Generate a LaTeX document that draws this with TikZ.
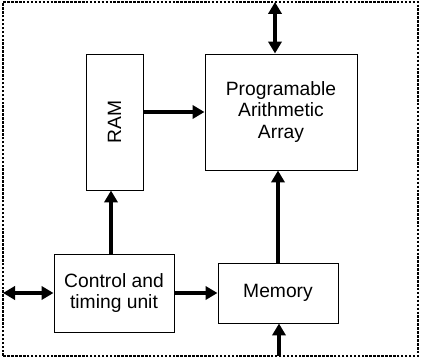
\documentclass[tikz,border=0pt]{standalone}
\usepackage{fontspec}
\setmainfont{Liberation Sans}
\usepackage{tikz}
\usetikzlibrary{
  arrows.meta,
  positioning,
  calc
}

\begin{document}
\begin{tikzpicture}[
  block/.style={rectangle, draw=black, line width=0.7pt, fill=white, font=\fontsize{13.7}{15.5}\selectfont, align=center, inner sep=0pt},
  frame/.style={draw=black, line width=0.8pt, dash pattern=on 1.8pt off 1pt},
  arr/.style={-{Triangle[length=0.3cm, width=0.33cm]}, line width=2.5pt},
  darr/.style={{Triangle[length=0.3cm, width=0.33cm]}-{Triangle[length=0.3cm, width=0.33cm]}, line width=2.5pt}
]
  \useasboundingbox (0,0) rectangle (10.525,9);
  \draw[frame] (0.075,0.1) rectangle (10.45,8.95);

  \node[block, minimum width=1.425cm, minimum height=3.4cm] (ram) at (2.8625,5.95) {\rotatebox{90}{RAM}};
  \node[block, minimum width=3.8cm, minimum height=2.9cm] (paa) at (7.025,6.2) {Programable\\Arithmetic\\Array};
  \node[block, minimum width=3cm, minimum height=1.95cm] (ctrl) at (2.85,1.675) {Control and\\timing unit};
  \node[block, minimum width=3cm, minimum height=1.5cm] (mem) at (6.95,1.675) {Memory};

  \coordinate (topio) at (6.875,8.95);
  \coordinate (leftio) at (0.075,1.675);
  \coordinate (botio) at (6.975,0.1);

  \draw[darr] (topio) -- (topio |- paa.north);
  \draw[darr] (leftio) -- (ctrl.west);
  \draw[arr] (ctrl.east) -- (mem.west);
  \draw[arr] ($(ctrl.north)+(-0.075,0)$) -- ($(ctrl.north |- ram.south)+(-0.075,0)$);
  \draw[arr] (ram.east |- paa.west) -- (paa.west);
  \draw[arr] (mem.north) -- (mem.north |- paa.south);
  \draw[arr] (botio) -- (botio |- mem.south);
\end{tikzpicture}
\end{document}
